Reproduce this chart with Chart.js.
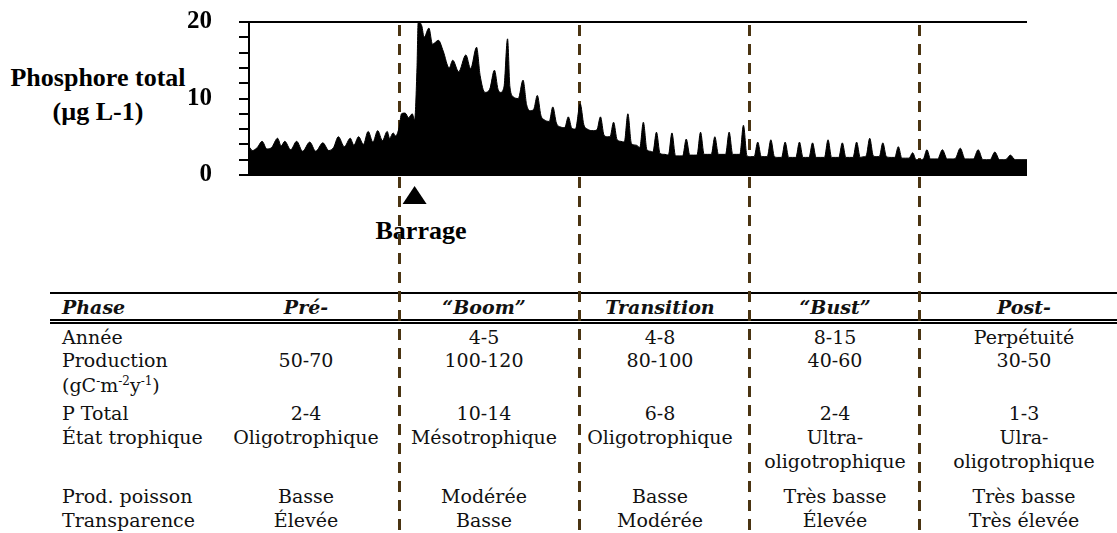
<!DOCTYPE html>
<html lang="fr">
<head>
<meta charset="utf-8">
<title>Phosphore total et phases d'un réservoir</title>
<script src="https://cdn.jsdelivr.net/npm/chart.js@4.4.1/dist/chart.umd.min.js"></script>
<style>
  html, body { margin: 0; padding: 0; background: #fff; }
  #wrap { position: relative; width: 1117px; height: 533px; overflow: hidden; }
  #graph { position: absolute; left: 0; top: 0; z-index: 2; pointer-events: none; }
  .t { position: absolute; white-space: nowrap; }
  .tab { font-family: "DejaVu Serif", serif; font-size: 19px; line-height: 24px; color: #111; }
  .hd { font-weight: bold; font-style: italic; }
  .big { font-family: "Liberation Serif", serif; font-weight: bold; font-size: 26px; line-height: 30px; color: #000; }
  .ctr { transform: translateX(-50%); text-align: center; }
  .rule { position: absolute; left: 50px; right: 0; background: #000; }
  sup { font-size: 12px; line-height: 0; vertical-align: 7px; }
</style>
</head>
<body>
<div id="wrap">
  <canvas id="graph" width="1117" height="533"></canvas>
  <div id="texts"></div>
</div>
<script>
// Phosphore total (µg/L) par phase; chaque point = [mois depuis le début, valeur]
const preBarrage = [
  [0, 3.7], [3, 3.2], [7, 3.6], [11, 4.4], [15, 3.4], [19, 3.6], [24, 4.8], [27, 3.8],
  [30, 4.4], [35, 3.3], [40, 4.4], [45, 3.1], [51, 4.3], [56, 3.1], [62, 4.2], [67, 3.2],
  [71, 3.6], [75, 5.0], [80, 3.7], [85, 4.8], [88, 3.9], [92, 5.0], [96, 4.0], [100, 5.7],
  [104, 4.3], [108, 5.8], [112, 4.5], [116, 5.7], [118, 4.8], [121, 5.5], [123, 5.1]
];
const boom = [
  [126, 6.2], [128, 8.0], [131, 8.1], [134, 7.5], [137, 8.0], [139, 7.2], [141, 14.0], [142, 20.0],
  [145, 19.5], [147, 18.0], [151, 19.2], [154, 17.1], [159, 17.6], [163, 16.2], [168, 14.0], [171, 15.0],
  [176, 13.5], [182, 15.7], [186, 13.9], [191, 16.7], [194, 13.0], [198, 10.8], [202, 11.2], [206, 13.7],
  [209, 11.2], [211, 10.8], [214, 11.5], [217, 17.8], [219, 11.5], [222, 10.2], [226, 10.0], [230, 12.4],
  [233, 9.2], [236, 8.4], [239, 8.6], [242, 10.4], [245, 7.8], [248, 7.2], [252, 7.0], [255, 8.9],
  [258, 6.8], [261, 6.3], [265, 6.2], [268, 7.6], [271, 6.1], [274, 6.0], [278, 9.3]
];
const transition = [
  [281, 6.6], [284, 6.0], [289, 5.8], [292, 5.9], [295, 7.6], [298, 5.2], [301, 5.0], [303, 5.0],
  [306, 6.9], [309, 4.6], [312, 4.4], [315, 4.3], [318, 8.0], [321, 4.1], [325, 3.9], [328, 3.6],
  [331, 6.9], [334, 3.3], [337, 3.1], [339, 3.0], [342, 5.6], [345, 2.8], [349, 2.7], [352, 2.6],
  [355, 5.5], [358, 2.5], [361, 2.5], [364, 2.5], [367, 4.7], [370, 2.6], [373, 2.6], [376, 2.6],
  [379, 5.6], [382, 2.7], [385, 2.7], [388, 2.7], [391, 5.0], [394, 2.7], [397, 2.7], [400, 2.7],
  [403, 5.6], [406, 2.7], [409, 2.7], [412, 2.7], [415, 6.5], [418, 2.5], [421, 2.4]
];
const bust = [
  [424, 2.4], [427, 4.3], [430, 2.4], [433, 2.4], [435, 2.4], [438, 4.6], [441, 2.4], [444, 2.3],
  [447, 2.3], [450, 4.3], [453, 2.3], [456, 2.3], [459, 2.3], [462, 4.3], [465, 2.3], [467, 2.3],
  [470, 2.3], [473, 4.2], [476, 2.3], [480, 2.3], [483, 2.3], [486, 4.6], [489, 2.3], [492, 2.3],
  [495, 2.3], [498, 4.2], [501, 2.3], [504, 2.3], [507, 2.3], [510, 4.3], [513, 2.3], [516, 2.4],
  [518, 2.5], [521, 4.8], [524, 2.5], [527, 2.4], [529, 2.4], [532, 4.2], [535, 2.4], [539, 2.3],
  [542, 2.3], [545, 3.7], [548, 2.2], [551, 2.2], [554, 2.2], [557, 2.9], [560, 2.0], [563, 2.0]
];
const post = [
  [566, 2.1], [569, 3.3], [572, 2.1], [575, 2.1], [578, 2.1], [582, 3.3], [586, 2.1], [590, 2.1],
  [593, 2.2], [597, 3.5], [601, 2.1], [605, 2.1], [608, 2.1], [612, 3.3], [616, 2.0], [619, 2.0],
  [622, 2.0], [626, 3.0], [630, 2.0], [633, 2.0], [636, 2.1], [639, 2.6], [643, 2.0], [648, 2.0],
  [653, 2.0]
];

// Limites des phases et mise en eau du barrage (mois)
const phaseLimits = [126, 277, 420, 562];
const barrageMonth = 139;
const yTicks = [0, 10, 20];

// Tableau des phases
const rowLabels = ['Année', 'Production', 'P Total', 'État trophique', 'Prod. poisson', 'Transparence'];
const phases = ['Pré-', '“Boom”', 'Transition', '“Bust”', 'Post-'];
const annee = ['', '4-5', '4-8', '8-15', 'Perpétuité'];
const production = ['50-70', '100-120', '80-100', '40-60', '30-50'];
const pTotal = ['2-4', '10-14', '6-8', '2-4', '1-3'];
const etatTrophique = [['Oligotrophique'], ['Mésotrophique'], ['Oligotrophique'], ['Ultra-', 'oligotrophique'], ['Ulra-', 'oligotrophique']];
const prodPoisson = ['Basse', 'Modérée', 'Basse', 'Très basse', 'Très basse'];
const transparence = ['Élevée', 'Basse', 'Modérée', 'Élevée', 'Très élevée'];

// ---- texte HTML ----
const texts = document.getElementById('texts');
function put(html, x, y, cls, center) {
  const d = document.createElement('div');
  d.className = 't ' + cls + (center ? ' ctr' : '');
  d.innerHTML = html;
  d.style.left = x + 'px';
  d.style.top = y + 'px';
  texts.appendChild(d);
  return d;
}
function rule(top, h) {
  const r = document.createElement('div');
  r.className = 'rule';
  r.style.top = top + 'px';
  r.style.height = h + 'px';
  texts.appendChild(r);
}

put('Phosphore total', 98, 63, 'big', true);
put('(µg L-1)', 98, 97, 'big', true);
put('Barrage', 421, 216, 'big', true);

const colX = [306, 484, 660, 835, 1024];
const labelX = 62;
const rowTop = { head: 295, annee: 325, prod: 348, unit: 373, p: 401, etat: 425, etat2: 449, poisson: 484, transp: 508 };

rule(292, 2);
rule(319, 1.5);
rule(322, 1.5);

put('Phase', labelX, rowTop.head, 'tab hd', false);
phases.forEach((p, i) => put(p, colX[i], rowTop.head, 'tab hd', true));

put(rowLabels[0], labelX, rowTop.annee, 'tab', false);
annee.forEach((v, i) => v && put(v, colX[i], rowTop.annee, 'tab', true));

put(rowLabels[1], labelX, rowTop.prod, 'tab', false);
put('(gC<sup>-</sup>m<sup>-2</sup>y<sup>-1</sup>)', labelX, rowTop.unit, 'tab', false);
production.forEach((v, i) => put(v, colX[i], rowTop.prod, 'tab', true));

put(rowLabels[2], labelX, rowTop.p, 'tab', false);
pTotal.forEach((v, i) => put(v, colX[i], rowTop.p, 'tab', true));

put(rowLabels[3], labelX, rowTop.etat, 'tab', false);
etatTrophique.forEach((lines, i) => {
  put(lines[0], colX[i], rowTop.etat, 'tab', true);
  if (lines[1]) put(lines[1], colX[i], rowTop.etat2, 'tab', true);
});

put(rowLabels[4], labelX, rowTop.poisson, 'tab', false);
prodPoisson.forEach((v, i) => put(v, colX[i], rowTop.poisson, 'tab', true));

put(rowLabels[5], labelX, rowTop.transp, 'tab', false);
transparence.forEach((v, i) => put(v, colX[i], rowTop.transp, 'tab', true));

// ---- graphique ----
const serie = [...preBarrage, ...boom, ...transition, ...bust, ...post].map(([m, v]) => ({ x: m, y: v }));

const phaseLines = {
  id: 'phaseLines',
  beforeDatasetsDraw(chart) {
    const { ctx, chartArea, scales: { x } } = chart;
    ctx.save();
    ctx.strokeStyle = '#4a3412';
    ctx.lineWidth = 3;
    ctx.setLineDash([11, 8]);
    phaseLimits.forEach(m => {
      const px = Math.round(x.getPixelForValue(m)) + 0.5;
      ctx.beginPath();
      ctx.moveTo(px, chartArea.top + 3);
      ctx.lineTo(px, chart.height);
      ctx.stroke();
    });
    ctx.restore();
  },
  afterDatasetsDraw(chart) {
    const { ctx, scales: { x } } = chart;
    const px = x.getPixelForValue(barrageMonth);
    ctx.save();
    ctx.fillStyle = '#000';
    ctx.beginPath();
    ctx.moveTo(px, 186);
    ctx.lineTo(px + 12, 204);
    ctx.lineTo(px - 12, 204);
    ctx.closePath();
    ctx.fill();
    ctx.restore();
  }
};

new Chart(document.getElementById('graph'), {
  type: 'line',
  data: {
    datasets: [{
      data: serie,
      fill: 'origin',
      backgroundColor: '#000',
      borderColor: '#000',
      borderWidth: 1,
      pointRadius: 0,
      cubicInterpolationMode: 'monotone'
    }]
  },
  options: {
    responsive: false,
    animation: false,
    events: [],
    devicePixelRatio: 1,
    layout: { padding: { left: 0, right: 90, top: 22, bottom: 358 } },
    plugins: { legend: { display: false }, tooltip: { enabled: false } },
    scales: {
      x: { type: 'linear', min: 0, max: 653, display: false },
      y: {
        min: 0, max: 20,
        afterFit(scale) {
          scale.width = 249;
          scale.paddingTop = 0;
          scale.paddingBottom = 0;
        },
        border: { display: true, color: '#000', width: 2 },
        grid: {
          drawOnChartArea: true,
          drawTicks: true,
          tickLength: 10,
          tickColor: '#000',
          tickWidth: 2,
          lineWidth: 2,
          color: ctx => (ctx.tick && (ctx.tick.value === 0 || ctx.tick.value === 20)) ? '#000' : 'rgba(0,0,0,0)'
        },
        ticks: {
          stepSize: 2,
          autoSkip: false,
          padding: 27,
          color: '#000',
          font: { family: 'Liberation Serif', weight: 'bold', size: 25 },
          callback: v => yTicks.includes(v) ? String(v) : ''
        }
      }
    }
  },
  plugins: [phaseLines]
});
</script>
</body>
</html>
